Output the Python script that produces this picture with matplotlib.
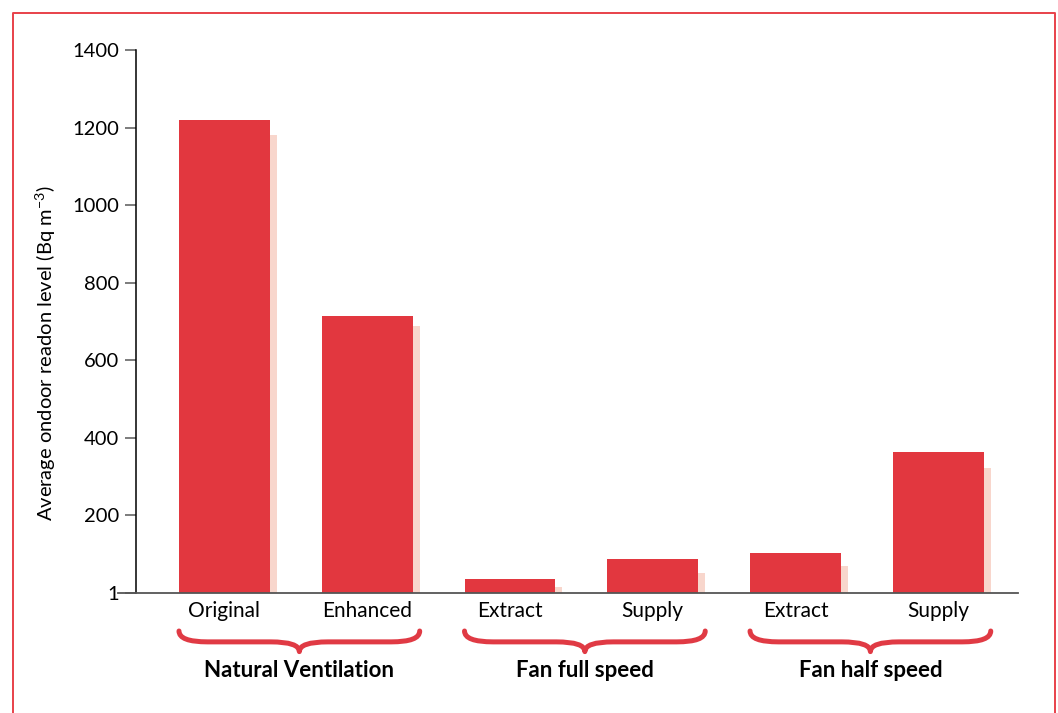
import matplotlib.pyplot as plt
from matplotlib.path import Path
from matplotlib.patches import PathPatch
from matplotlib.lines import Line2D
import matplotlib.transforms as mtransforms

plt.rcParams['font.family'] = ['Lato', 'DejaVu Sans']

categories = ["Original", "Enhanced", "Extract", "Supply", "Extract", "Supply"]
groups = ["Natural Ventilation", "Fan full speed", "Fan half speed"]
radon_level = [1220, 715, 36, 87, 103, 363]
radon_shadow = [1180, 688, 15, 52, 70, 322]
yticks = [0, 200, 400, 600, 800, 1000, 1200, 1400]
ytick_labels = ["1", "200", "400", "600", "800", "1000", "1200", "1400"]

RED = "#e2373f"
PINK = "#f8d6cc"

fig = plt.figure(figsize=(10.58, 7.13), dpi=100)
ax = fig.add_axes([0.1285, 0.1683, 0.8335, 0.7616])

x = list(range(len(categories)))
width = 0.637
shift = 0.049
ax.bar([i + shift for i in x], radon_shadow, width=width, color=PINK, zorder=1)
ax.bar(x, radon_level, width=width, color=RED, zorder=2)

ax.set_xlim(-0.62, 5.557)
ax.set_ylim(0, 1400)
ax.set_yticks(yticks)
ax.set_yticklabels(ytick_labels, fontsize=14.5)
ax.set_xticks(x)
ax.set_xticklabels(categories, fontsize=15)
ax.tick_params(axis='x', length=0, pad=6)
ax.tick_params(axis='y', length=8, width=1.2, color="#666666", pad=4)

for s in ["top", "right", "bottom"]:
    ax.spines[s].set_visible(False)
ax.spines["left"].set_linewidth(1.1)
ax.spines["left"].set_color("black")

# baseline runs a little past the y axis
ax.plot([-0.02, 1], [0, 0], transform=ax.transAxes, color="#555555",
        lw=1.3, clip_on=False, zorder=3)

ax.set_ylabel("Average ondoor readon level (Bq m$^{\\mathregular{-3}}$)",
              fontsize=14.5)
ax.yaxis.set_label_coords(-0.088, 0.442)

# curly braces under each pair of bars
trans = mtransforms.blended_transform_factory(ax.transData, ax.transAxes)
y_end, y_mid, y_tip = -0.070, -0.090, -0.108
for g, name in enumerate(groups):
    x0 = 2 * g - width / 2
    x1 = 2 * g + 1 + width / 2 + shift
    xc = (x0 + x1) / 2
    r = 0.2
    verts = [(x0, y_end), (x0, y_mid), (x0 + r, y_mid),
             (xc - r, y_mid), (xc, y_mid), (xc, y_tip),
             (xc, y_mid), (xc + r, y_mid),
             (x1 - r, y_mid), (x1, y_mid), (x1, y_end)]
    codes = [Path.MOVETO, Path.CURVE3, Path.CURVE3,
             Path.LINETO, Path.CURVE3, Path.CURVE3,
             Path.CURVE3, Path.CURVE3,
             Path.LINETO, Path.CURVE3, Path.CURVE3]
    brace = PathPatch(Path(verts, codes), transform=trans, fill=False,
                      edgecolor="#e03a44", lw=3.6, clip_on=False,
                      capstyle="round", joinstyle="round")
    ax.add_patch(brace)
    ax.text(xc, -0.142, name, transform=trans, ha="center", va="center",
            fontsize=16, fontweight="bold", color="black")

# red frame: left, top and right edges
fx0, fx1 = 12.5 / 1058, 1054.5 / 1058
fy1 = 1 - 13 / 713
frame = Line2D([fx0, fx0, fx1, fx1], [0, fy1, fy1, 0], transform=fig.transFigure,
               color="#e8414a", lw=1.4)
fig.add_artist(frame)

fig.savefig("out.png", dpi=100)
